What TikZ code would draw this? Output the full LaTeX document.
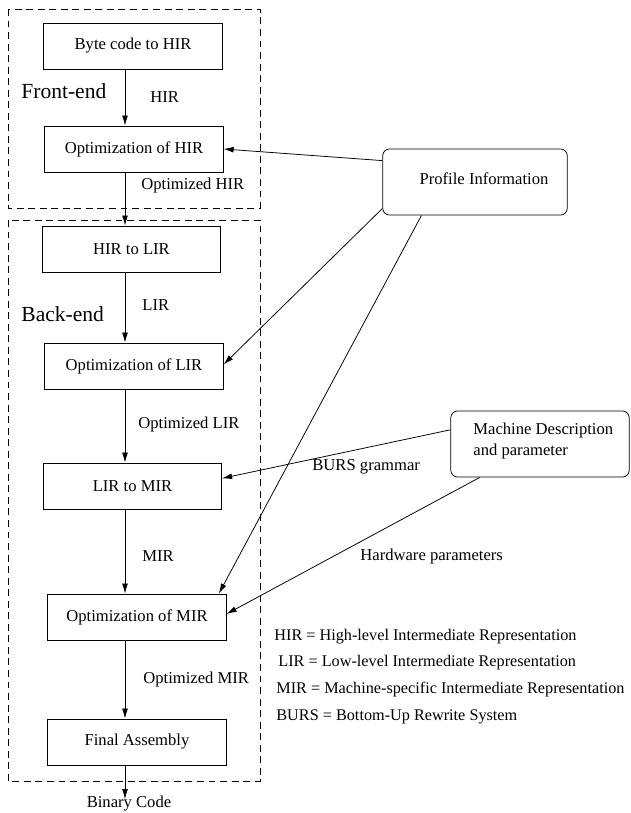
\documentclass[tikz,border=0pt]{standalone}
\usepackage{fontspec}
\setmainfont{Liberation Serif}
\usetikzlibrary{arrows.meta, positioning, calc}

\begin{document}
\begin{tikzpicture}[
        x=0.65pt, y=-0.65pt,
        line width=0.5pt,
        every node/.style={font=\fontsize{10.8}{13}\selectfont},
        block/.style={draw, align=center, minimum width=116pt, minimum height=30pt, inner sep=0pt},
        infobox/.style={draw, rounded corners=4.5pt, minimum height=43pt, inner sep=0pt},
        lbl/.style={anchor=west, inner sep=0pt},
        keyl/.style={anchor=west, inner sep=0pt, font=\fontsize{10.55}{13}\selectfont},
        bigl/.style={anchor=west, inner sep=0pt, font=\fontsize{14}{16}\selectfont},
        frame/.style={dashed, dash pattern=on 4.5pt off 3pt},
        arrow/.style={-{Latex[length=6.5pt, width=3.8pt]}}
        ]
        \useasboundingbox (0,0) rectangle (631,813);

        % front-end / back-end frames
        \draw[frame] (8,9) rectangle (260,208);
        \draw[frame] (8,220) rectangle (260,781);
        \node[bigl] (fe) at (21,91) {Front-end};
        \node[bigl] (be) at (21,314) {Back-end};

        % compiler stages
        \node[block] (bc) at (133,46) {Byte code to HIR};
        \node[block] (ohir) at (134,149) {Optimization of HIR};
        \node[block] (h2l) at (131.5,249) {HIR to LIR};
        \node[block] (olir) at (134,366) {Optimization of LIR};
        \node[block] (l2m) at (132.5,486) {LIR to MIR};
        \node[block] (omir) at (137,617) {Optimization of MIR};
        \node[block] (fa) at (137,742) {Final Assembly};
        \node[inner sep=0pt] (bin) at (129,804) {Binary Code};
        \coordinate (spine) at (125,0);

        \draw[arrow] (bc.south -| spine) -- (ohir.north -| spine);
        \draw[arrow] (ohir.south -| spine) -- (h2l.north -| spine);
        \draw[arrow] (h2l.south -| spine) -- (olir.north -| spine);
        \draw[arrow] (olir.south -| spine) -- (l2m.north -| spine);
        \draw[arrow] (l2m.south -| spine) -- (omir.north -| spine);
        \draw[arrow] (omir.south -| spine) -- (fa.north -| spine);
        \draw[arrow] (fa.south -| spine) -- ([yshift=-2pt]bin.north -| spine);

        \node[lbl] (lhir) at (150,97) {HIR};
        \node[lbl] (lohir) at (141,186) {Optimized HIR};
        \node[lbl] (llir) at (142,305) {LIR};
        \node[lbl] (lolir) at (138,424) {Optimized LIR};
        \node[lbl] (lmir) at (142,556) {MIR};
        \node[lbl] (lomir) at (143,679) {Optimized MIR};

        % side information
        \node[infobox, minimum width=120pt] (prof) at (475,182) {};
        \node[inner sep=0pt] (proft) at (484,179) {Profile Information};
        \node[infobox, minimum width=116pt] (mach) at (540,444) {};
        \node[lbl, align=left] (macht) at (473,441) {Machine Description\\[0.6pt]and parameter};

        \draw[arrow] (prof.167) -- (ohir.east);
        \draw[arrow] (prof.196) -- ([yshift=1pt]olir.east);
        \draw[arrow] (prof.212) -- ([xshift=-5pt]omir.north east);
        \draw[arrow] (mach.171) -- ([yshift=5pt]l2m.east);
        \draw[arrow] (mach.209) -- ([yshift=2pt]omir.east);

        \node[lbl] (lburs) at (312,467) {BURS grammar};
        \node[lbl] (lhw) at (360,556) {Hardware parameters};

        % legend
        \node[keyl] (k1) at (274,637) {HIR = High-level Intermediate Representation};
        \node[keyl] (k2) at (278,663) {LIR = Low-level Intermediate Representation};
        \node[keyl] (k3) at (276,690) {MIR = Machine-specific Intermediate Representation};
        \node[keyl] (k4) at (276,717) {BURS = Bottom-Up Rewrite System};
    \end{tikzpicture}
\end{document}
